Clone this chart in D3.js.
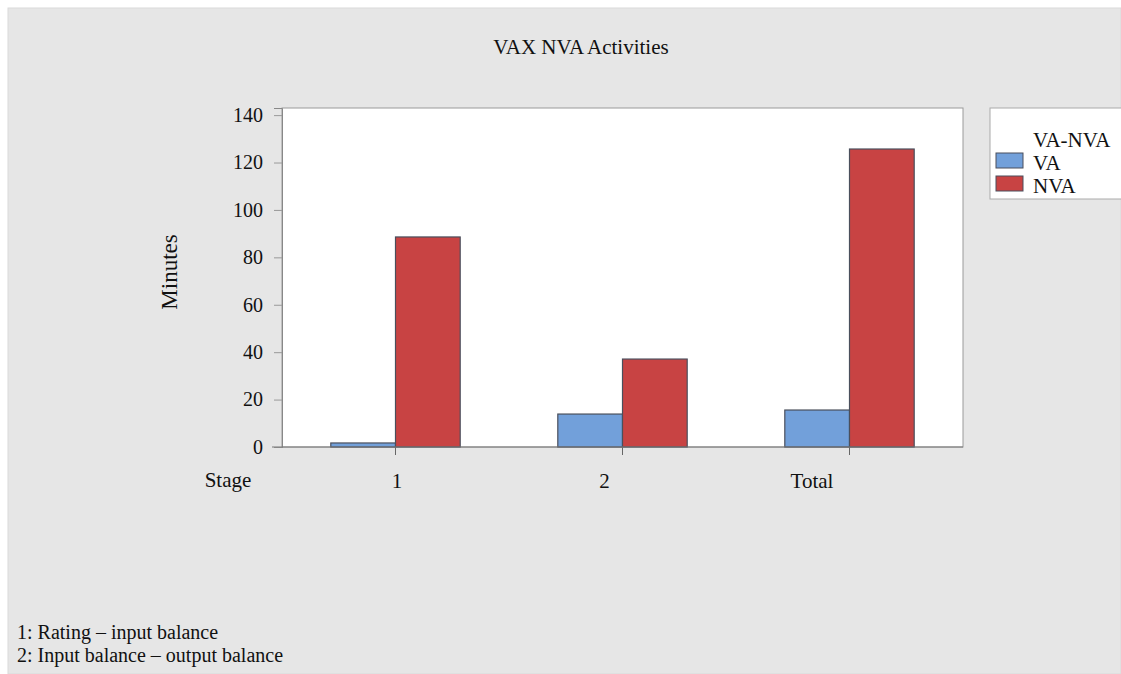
<!DOCTYPE html>
<html><head><meta charset="utf-8">
<script src="https://cdn.jsdelivr.net/npm/d3@7"></script>
<style>body{margin:0;background:#fff}svg{display:block}text{font-family:"Liberation Serif","Times New Roman",serif;fill:#111}</style>
</head><body>
<script>
const categories = ["1", "2", "Total"];
const seriesNames = ["VA", "NVA"];
const vaValues = [1.7, 13.9, 15.6];
const nvaValues = [88.6, 37.1, 125.7];
const yTicks = [0, 20, 40, 60, 80, 100, 120, 140];
const footnotes = ["1: Rating \u2013 input balance", "2: Input balance \u2013 output balance"];
const colors = ["#72a0da", "#c84343"];

const W = 1121, H = 674;
const svg = d3.select("body").append("svg").attr("width", W).attr("height", H);
svg.append("rect").attr("x", 8).attr("y", 8).attr("width", W - 8).attr("height", H - 8)
  .attr("fill", "#e6e6e6").attr("stroke", "#dadada");

const plot = {left: 282, right: 963, top: 108, bottom: 447};
svg.append("rect").attr("x", plot.left).attr("y", plot.top)
  .attr("width", plot.right - plot.left).attr("height", plot.bottom - plot.top)
  .attr("fill", "#fff").attr("stroke", "#9a9a9a");

const x = d3.scaleBand().domain(categories).range([plot.left, plot.right]).paddingInner(0.43).paddingOuter(0.215);
const xs = d3.scaleBand().domain(seriesNames).range([0, x.bandwidth()]);
const y = d3.scaleLinear().domain([0, 143]).range([plot.bottom, plot.top]);

// y axis
const yAxis = svg.append("g").attr("transform", `translate(${plot.left},0)`)
  .call(d3.axisLeft(y).tickValues(yTicks).tickSize(8).tickPadding(11));
yAxis.select(".domain").attr("stroke", "#888");
yAxis.selectAll(".tick line").attr("stroke", "#999");
yAxis.selectAll("text").style("font-size", "20px").style("font-family", "Liberation Serif").attr("fill", "#111");

// bars
const data = categories.map((c, i) => ({c, vals: [vaValues[i], nvaValues[i]]}));
const g = svg.append("g").selectAll("g").data(data).join("g")
  .attr("transform", d => `translate(${x(d.c)},0)`);
g.selectAll("rect").data(d => d.vals.map((v, j) => ({s: seriesNames[j], v, j}))).join("rect")
  .attr("x", d => xs(d.s)).attr("width", xs.bandwidth())
  .attr("y", d => y(d.v)).attr("height", d => y(0) - y(d.v))
  .attr("fill", d => colors[d.j]).attr("stroke", "#4a4f5c").attr("stroke-width", 1.2);

// x axis
const xAxis = svg.append("g").attr("transform", `translate(0,${plot.bottom})`)
  .call(d3.axisBottom(x).tickSize(8).tickFormat(""));
xAxis.select(".domain").remove();
xAxis.selectAll(".tick line").attr("stroke", "#666");
svg.append("line").attr("x1", plot.left - 10).attr("x2", plot.right).attr("y1", plot.bottom).attr("y2", plot.bottom)
  .attr("stroke", "#777");

// category labels
const xl = d3.scalePoint().domain(categories).range([397, 812]);
svg.append("g").selectAll("text").data(categories).join("text")
  .attr("x", d => xl(d)).attr("y", 488).attr("text-anchor", "middle")
  .style("font-size", "21px").text(d => d);
svg.append("text").attr("x", 228).attr("y", 487).attr("text-anchor", "middle").style("font-size", "21px").text("Stage");

// title & y label
svg.append("text").attr("x", 581).attr("y", 54).attr("text-anchor", "middle").style("font-size", "21px").text("VAX NVA Activities");
svg.append("text").attr("transform", "translate(177,272) rotate(-90)").attr("text-anchor", "middle")
  .style("font-size", "23px").text("Minutes");

// legend
const lg = svg.append("g");
lg.append("rect").attr("x", 990).attr("y", 108).attr("width", 140).attr("height", 91).attr("fill", "#fff").attr("stroke", "#aaa");
lg.append("text").attr("x", 1033).attr("y", 147).style("font-size", "21px").text("VA-NVA");
lg.selectAll(".sw").data(seriesNames).join("rect").attr("class", "sw")
  .attr("x", 996).attr("y", (d, i) => 153 + i * 23).attr("width", 27).attr("height", 15)
  .attr("fill", (d, i) => colors[i]).attr("stroke", "#4a4f5c");
lg.selectAll(".lt").data(seriesNames).join("text").attr("class", "lt")
  .attr("x", 1033).attr("y", (d, i) => 170 + i * 23).style("font-size", "21px").text(d => d);

// footnotes
svg.append("g").selectAll("text").data(footnotes).join("text")
  .attr("x", 17).attr("y", (d, i) => 639 + i * 23).style("font-size", "20px").text(d => d);
</script>
</body></html>
